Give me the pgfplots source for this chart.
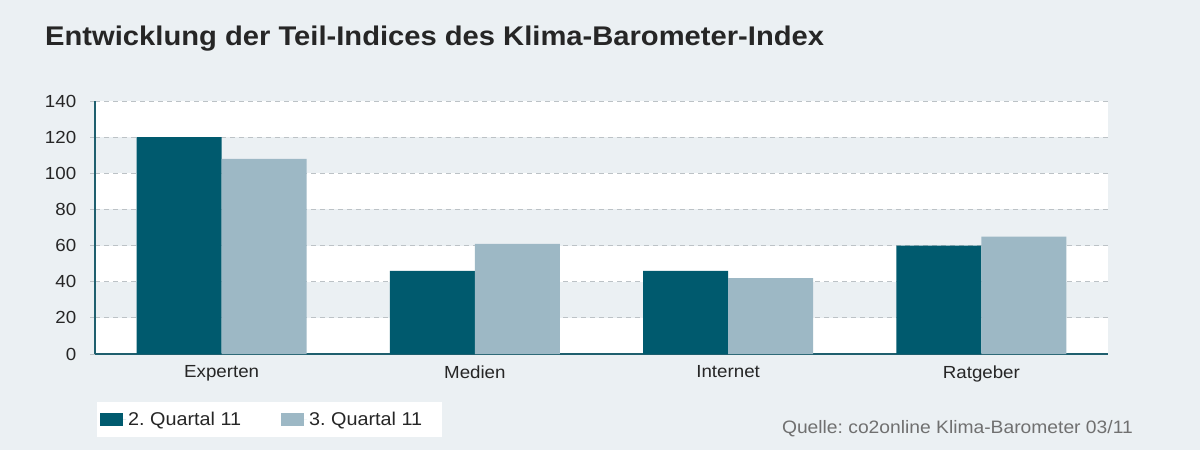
\documentclass[border=0pt]{standalone}
\usepackage{pgfplots}
\pgfplotsset{compat=1.18}
\usepackage{fontspec}
\setmainfont{Liberation Sans}
\frenchspacing
\definecolor{bgc}{HTML}{EBF0F3}
\definecolor{darkc}{HTML}{005A6E}
\definecolor{lightc}{HTML}{9DB8C5}
\definecolor{gridc}{HTML}{BCC2C6}
\definecolor{axc}{HTML}{1F5F6E}
\definecolor{srcc}{HTML}{707070}
\newcommand{\sx}[1]{\scalebox{1.07}[1]{#1}}
\begin{document}
\begin{tikzpicture}
\begin{axis}[
  set layers, clip=false,
  at={(95bp,96bp)}, anchor=south west,
  scale only axis, width=1013bp, height=253bp,
  xmin=-0.5, xmax=3.5, ymin=0, ymax=140,
  xtick={0,1,2,3}, xticklabels={\sx{Experten},\sx{Medien},\sx{Internet},\sx{Ratgeber}},
  ytick={0,20,...,140},
  x tick style={draw=none},
  y tick style={draw=gridc, line width=0.8bp},
  tick align=outside, major tick length=5bp,
  axis x line*=bottom, axis y line*=left,
  axis line style={draw=axc, line width=1.6bp, -},
  ymajorgrids, grid style={draw=gridc, dash pattern=on 5bp off 4bp, line width=0.9bp},
  ticklabel style={font=\fontsize{17.5bp}{20bp}\selectfont, text=black!85},
  /pgf/number format/assume math mode=true,
  yticklabel style={xshift=-10bp, xscale=1.07},
  xticklabel style={yshift=-3bp},
  ybar, bar width=85bp,
  legend style={at={(axis description cs:0,0)}, anchor=north west, xshift=2bp, yshift=-48bp,
    draw=none, fill=white, legend columns=2, font=\fontsize{18.5bp}{21bp}\selectfont,
    inner xsep=3bp, inner ysep=8bp, text=black!85,
    /tikz/every even column/.append style={column sep=38bp}},
  legend image code/.code={\fill[#1] (0bp,-6.5bp) rectangle (23bp,6.5bp); \path (0bp,0bp) -- (26bp,0bp);},
]
\begin{pgfonlayer}{axis background}
\fill[bgc] ([xshift=-95bp,yshift=-96bp]axis description cs:0,0) rectangle ([xshift=92bp,yshift=101bp]axis description cs:1,1);
\fill[white] (axis cs:-0.5,0) rectangle (axis cs:3.5,20);
\fill[white] (axis cs:-0.5,40) rectangle (axis cs:3.5,60);
\fill[white] (axis cs:-0.5,80) rectangle (axis cs:3.5,100);
\fill[white] (axis cs:-0.5,120) rectangle (axis cs:3.5,140);
\end{pgfonlayer}
\addplot[fill=darkc, draw=none, bar shift=-42.5bp] coordinates {(0,120) (1,46) (2,46) (3,60)};
\addlegendentry{\sx{2. Quartal 11}}
\addplot[fill=lightc, draw=none, bar shift=42.5bp] coordinates {(0,108) (1,61) (2,42) (3,65)};
\addlegendentry{\sx{3. Quartal 11}\hspace*{15bp}}
\end{axis}
\node[anchor=base west, inner sep=0, font=\fontsize{27bp}{30bp}\selectfont\bfseries, text=black!85] at (45bp,404bp) {\scalebox{1.08}[1]{Entwicklung der Teil-Indices des Klima-Barometer-Index}};
\node[anchor=base east, inner sep=0, font=\fontsize{18bp}{20bp}\selectfont, text=srcc] at (1133bp,17bp) {\sx{Quelle: co2online Klima-Barometer 03/11}};
\end{tikzpicture}
\end{document}
